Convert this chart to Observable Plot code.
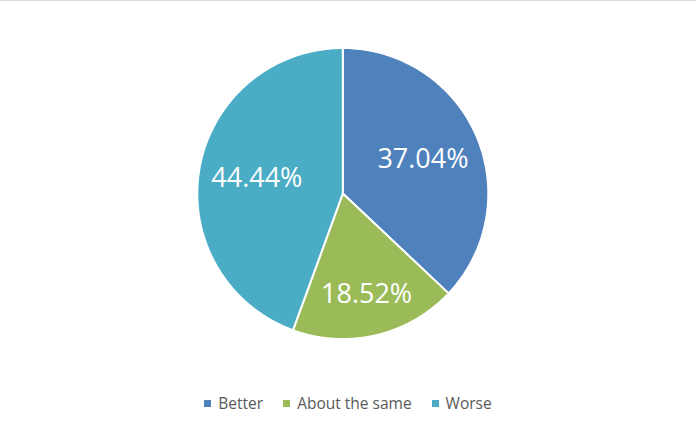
<!DOCTYPE html>
<html>
<head>
<meta charset="utf-8">
<script src="https://cdn.jsdelivr.net/npm/d3@7"></script>
<script src="https://cdn.jsdelivr.net/npm/@observablehq/plot@0.6"></script>
<style>
  html, body { margin: 0; padding: 0; background: #fff; }
  #wrap { width: 696px; height: 426px; border-top: 1px solid #d9d9d9; position: relative; overflow: hidden; }
  #legend { position: absolute; left: 0; top: 391px; width: 696px; display: flex; justify-content: center; gap: 20px;
            font-family: "Open Sans", "Noto Sans", sans-serif; font-size: 15.5px; color: #595959; line-height: 22px; padding-left: 0px; box-sizing: border-box; }
  .item { display: flex; align-items: center; }
  .sw { width: 7px; height: 7px; margin-right: 7px; }
</style>
</head>
<body>
<div id="wrap"></div>
<script>
const categories = ["Better", "About the same", "Worse"];
const values = [37.04, 18.52, 44.44];
const colors = ["#4F81BD", "#9BBB59", "#4BACC6"];

const total = d3.sum(values);
let acc = 0;
const slices = categories.map((c, i) => {
  const a0 = acc / total * 2 * Math.PI;
  acc += values[i];
  const a1 = acc / total * 2 * Math.PI;
  return {cat: c, value: values[i], a0, a1};
});

const pts = [];
for (const s of slices) {
  pts.push({cat: s.cat, x: 0, y: 0});
  const n = 120;
  for (let k = 0; k <= n; k++) {
    const t = s.a0 + (s.a1 - s.a0) * k / n;
    pts.push({cat: s.cat, x: Math.sin(t), y: Math.cos(t)});
  }
  pts.push({cat: s.cat, x: 0, y: 0});
}

// best-fit style: smaller slices push their label further out
const labels = slices.map(s => {
  const m = (s.a0 + s.a1) / 2;
  const lr = (s.value / total) < 0.25 ? 0.71 : 0.6;
  return {text: d3.format(".2f")(s.value) + "%", x: lr * Math.sin(m), y: lr * Math.cos(m)};
});

const cx = 342.3, cy = 192, r = 145.5;
const chart = Plot.plot({
  width: 696,
  height: 385,
  margin: 0,
  x: {domain: [-1, 1], range: [cx - r, cx + r], axis: null},
  y: {domain: [-1, 1], range: [cy + r, cy - r], axis: null},
  color: {domain: categories, range: colors},
  style: {background: "#fff"},
  marks: [
    Plot.line(pts, {x: "x", y: "y", z: "cat", fill: "cat", stroke: "#fff", strokeWidth: 2, strokeLinejoin: "miter", curve: "linear"}),
    Plot.text(labels, {x: "x", y: "y", text: "text", fill: "#fff", fontSize: 27, fontFamily: "Open Sans, Noto Sans, sans-serif"})
  ]
});
const wrap = document.getElementById("wrap");
wrap.appendChild(chart);

const legend = document.createElement("div");
legend.id = "legend";
categories.forEach((c, i) => {
  const it = document.createElement("div");
  it.className = "item";
  const sw = document.createElement("span");
  sw.className = "sw";
  sw.style.background = colors[i];
  const tx = document.createElement("span");
  tx.textContent = c;
  it.appendChild(sw); it.appendChild(tx);
  legend.appendChild(it);
});
wrap.appendChild(legend);
</script>
</body>
</html>
